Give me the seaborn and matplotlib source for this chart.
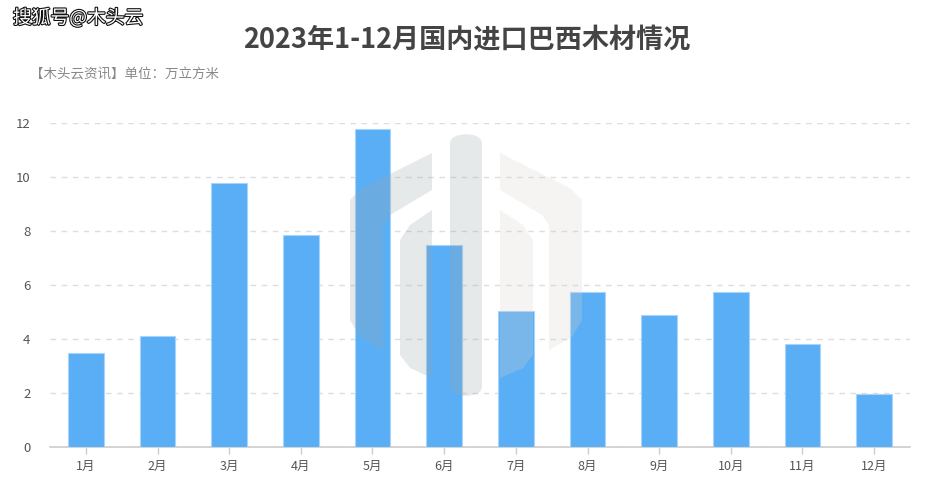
import matplotlib
matplotlib.use("Agg")
import matplotlib.pyplot as plt
import matplotlib.patheffects as pe
from matplotlib.patches import Polygon, FancyBboxPatch
import seaborn as sns
import pandas as pd

months = ["1月", "2月", "3月", "4月", "5月", "6月", "7月", "8月", "9月", "10月", "11月", "12月"]
values = [3.47, 4.10, 9.78, 7.86, 11.79, 7.48, 5.05, 5.75, 4.90, 5.73, 3.83, 1.95]
yticks = [0, 2, 4, 6, 8, 10, 12]

sns.set_theme(style="white")
plt.rcParams['font.family'] = ['Noto Sans CJK SC', 'DejaVu Sans']

df = pd.DataFrame({"month": months, "value": values})

fig = plt.figure(figsize=(9.34, 5.04), dpi=100)
W, H = 934, 504
ax = fig.add_axes([50 / W, (H - 447) / H, (910 - 50) / W, (447 - 123) / H])

sns.barplot(data=df, x="month", y="value", color="#5aaef5", saturation=1,
            width=0.5, edgecolor="#a8d3fa", linewidth=0.8, ax=ax, zorder=3)

ax.set_ylim(0, 12)
ax.set_xlim(-0.5, 11.5)
ax.set_yticks(yticks)
ax.set_yticklabels([str(t) for t in yticks])
ax.set_xlabel("")
ax.set_ylabel("")
for s in ["top", "right", "left"]:
    ax.spines[s].set_visible(False)
ax.spines["bottom"].set_color("#cccccc")
ax.spines["bottom"].set_linewidth(1.2)
ax.yaxis.grid(True, linestyle=(0, (4, 4)), color="#dddddd", linewidth=1, zorder=0)
ax.set_axisbelow(True)
ax.tick_params(axis="x", length=5, color="#cccccc", width=1, labelsize=9, labelcolor="#555555", pad=4, bottom=True)
ax.tick_params(axis="y", length=0, labelsize=9.5, labelcolor="#555555", pad=14)

# Title and subtitle
fig.text(467 / W, 1 - 40 / H, "2023年1-12月国内进口巴西木材情况", ha="center", va="center",
         fontsize=19.5, fontweight="bold", color="#444444")
fig.text(30 / W, 1 - 74 / H, "【木头云资讯】单位：万立方米", ha="left", va="center",
         fontsize=9.7, color="#888888")

# Top-left watermark
fig.text(13 / W, 1 - 18 / H, "搜狐号@木头云", ha="left", va="center", fontsize=13.5,
         color="white", path_effects=[pe.withStroke(linewidth=1.6, foreground="#111111")])

# Center logo watermark (decoration)
def px(x, y):
    return (x / W, 1 - y / H)

left_shape = [px(432, 153), px(432, 190), px(390, 215), px(383, 225), px(383, 350),
              px(360, 337), px(350, 320), px(350, 200), px(362, 188)]
mid_left = [px(432, 210), px(432, 378), px(410, 368), px(400, 355), px(400, 240), px(410, 225)]
center_bar = FancyBboxPatch((450 / W, 1 - 396 / H), (482 - 450) / W, (396 - 134) / H,
                            boxstyle="round,pad=0,rounding_size=0.02", transform=fig.transFigure,
                            facecolor="#9aa9a9", alpha=0.25, edgecolor="none", zorder=10)
mid_right = [px(500, 210), px(500, 378), px(523, 368), px(533, 355), px(533, 240), px(523, 225)]
right_shape = [px(500, 153), px(500, 190), px(542, 215), px(549, 225), px(549, 350),
               px(572, 337), px(582, 320), px(582, 200), px(570, 188)]
for pts, col, a in [(left_shape, "#9aa9a9", 0.25), (mid_left, "#9aa9a9", 0.25),
                    (mid_right, "#d9d4cc", 0.25), (right_shape, "#d9d4cc", 0.25)]:
    fig.patches.append(Polygon(pts, closed=True, transform=fig.transFigure,
                               facecolor=col, alpha=a, edgecolor="none", zorder=10))
fig.patches.append(center_bar)

fig.savefig("out.png", dpi=100, facecolor="white")
